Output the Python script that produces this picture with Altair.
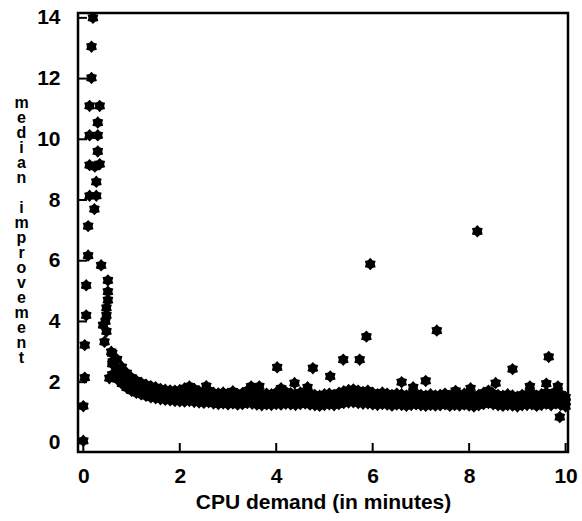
import altair as alt
import pandas as pd

# --- data ---
peak_x = [0.20, 0.17, 0.17, 0.13, 0.34, 0.30, 0.13, 0.30, 0.30, 0.13, 0.24, 0.34,
          0.27, 0.13, 0.27, 0.23, 0.10, 0.10, 0.37, 0.06, 0.51, 0.51, 0.51, 0.48,
          0.06, 0.48, 0.46, 0.41, 0.48, 0.03, 0.44, 0.58, 0.61, 0.54, 0.03, 0.0, 0.0]
peak_y = [14.0, 13.05, 12.02, 11.1, 11.1, 10.55, 10.13, 10.13, 9.6, 9.15, 9.1, 9.18,
          8.6, 8.14, 8.14, 7.7, 7.14, 6.17, 5.85, 5.19, 5.35, 4.98, 4.7, 4.45,
          4.2, 4.2, 4.0, 3.88, 3.67, 3.22, 3.33, 3.0, 2.68, 2.13, 2.15, 1.21, 0.07]

band_x = [0.6, 0.7, 0.8, 0.9, 1.0, 1.1, 1.2, 1.3, 1.4, 1.5,
          1.6, 1.7, 1.8, 1.9, 2.0, 2.1, 2.2, 2.3, 2.4, 2.5,
          2.6, 2.7, 2.8, 2.9, 3.0, 3.1, 3.2, 3.3, 3.4, 3.5,
          3.6, 3.7, 3.8, 3.9, 4.0, 4.1, 4.2, 4.3, 4.4, 4.5,
          4.6, 4.7, 4.8, 4.9, 5.0, 5.1, 5.2, 5.3, 5.4, 5.5,
          5.6, 5.7, 5.8, 5.9, 6.0, 6.1, 6.2, 6.3, 6.4, 6.5,
          6.6, 6.7, 6.8, 6.9, 7.0, 7.1, 7.2, 7.3, 7.4, 7.5,
          7.6, 7.7, 7.8, 7.9, 8.0, 8.1, 8.2, 8.3, 8.4, 8.5,
          8.6, 8.7, 8.8, 8.9, 9.0, 9.1, 9.2, 9.3, 9.4, 9.5,
          9.6, 9.7, 9.8, 9.9, 10.0]
band_upper = [2.95, 2.75, 2.5, 2.3, 2.15, 2.05, 1.98, 1.92, 1.87, 1.83,
              1.78, 1.75, 1.73, 1.72, 1.74, 1.8, 1.86, 1.78, 1.7, 1.68,
              1.72, 1.65, 1.63, 1.66, 1.62, 1.7, 1.6, 1.64, 1.72, 1.68,
              1.62, 1.58, 1.62, 1.6, 1.66, 1.62, 1.68, 1.64, 1.6, 1.66,
              1.7, 1.63, 1.58, 1.55, 1.6, 1.62, 1.58, 1.65, 1.7, 1.74,
              1.76, 1.72, 1.68, 1.72, 1.65, 1.6, 1.66, 1.62, 1.58, 1.62,
              1.6, 1.56, 1.6, 1.62, 1.58, 1.55, 1.6, 1.56, 1.58, 1.62,
              1.55, 1.6, 1.58, 1.62, 1.56, 1.52, 1.58, 1.65, 1.72, 1.62,
              1.58, 1.55, 1.6, 1.56, 1.52, 1.58, 1.6, 1.62, 1.55, 1.6,
              1.66, 1.58, 1.68, 1.6, 1.5]
band_mid = [2.6, 2.4, 2.2, 2.05, 1.93, 1.85, 1.78, 1.72, 1.68, 1.64,
            1.6, 1.57, 1.55, 1.53, 1.52, 1.55, 1.58, 1.52, 1.48, 1.47,
            1.5, 1.45, 1.44, 1.46, 1.43, 1.48, 1.42, 1.45, 1.5, 1.47,
            1.43, 1.4, 1.44, 1.42, 1.46, 1.43, 1.47, 1.45, 1.42, 1.46,
            1.49, 1.44, 1.4, 1.38, 1.42, 1.44, 1.4, 1.46, 1.5, 1.53,
            1.55, 1.51, 1.48, 1.5, 1.45, 1.42, 1.46, 1.43, 1.4, 1.43,
            1.42, 1.39, 1.42, 1.44, 1.4, 1.38, 1.42, 1.39, 1.41, 1.44,
            1.38, 1.42, 1.4, 1.44, 1.39, 1.36, 1.4, 1.46, 1.5, 1.44,
            1.4, 1.38, 1.42, 1.39, 1.36, 1.4, 1.42, 1.44, 1.38, 1.42,
            1.47, 1.4, 1.48, 1.42, 1.35]
band_lower = [2.25, 2.1, 1.95, 1.82, 1.72, 1.65, 1.6, 1.55, 1.5, 1.47,
              1.44, 1.42, 1.4, 1.38, 1.37, 1.36, 1.38, 1.35, 1.33, 1.32,
              1.34, 1.3, 1.28, 1.3, 1.27, 1.3, 1.26, 1.28, 1.31, 1.29,
              1.26, 1.24, 1.27, 1.25, 1.28, 1.26, 1.29, 1.27, 1.25, 1.28,
              1.3, 1.26, 1.24, 1.22, 1.25, 1.27, 1.24, 1.28, 1.31, 1.33,
              1.34, 1.31, 1.29, 1.3, 1.27, 1.25, 1.28, 1.26, 1.23, 1.26,
              1.25, 1.22, 1.25, 1.27, 1.24, 1.22, 1.25, 1.23, 1.24, 1.27,
              1.22, 1.25, 1.23, 1.26, 1.23, 1.2, 1.24, 1.28, 1.31, 1.27,
              1.24, 1.22, 1.25, 1.23, 1.2, 1.24, 1.25, 1.27, 1.22, 1.25,
              1.29, 1.24, 1.3, 1.25, 1.2]

outlier_x = [4.02, 4.76, 5.12, 5.39, 5.73, 5.87, 5.95, 7.33, 8.17, 8.9, 9.65, 9.6,
             9.88, 6.6, 6.84, 7.1, 4.38, 4.1, 3.48, 3.65, 8.55, 9.26, 9.84, 4.65,
             7.72, 8.03, 2.55]
outlier_y = [2.49, 2.46, 2.19, 2.74, 2.74, 3.5, 5.89, 3.7, 6.97, 2.43, 2.83, 1.95,
             0.85, 2.0, 1.83, 2.04, 1.97, 1.8, 1.86, 1.86, 1.97, 1.86, 1.86, 1.83,
             1.71, 1.8, 1.87]

x_ticks = [0, 2, 4, 6, 8, 10]
y_ticks = [0, 2, 4, 6, 8, 10, 12, 14]
y_title = ["m", "e", "d", "i", "a", "n", "\u2800",
           "i", "m", "p", "r", "o", "v", "e", "m", "e", "n", "t"]

xs = peak_x + band_x + band_x + band_x + outlier_x
ys = peak_y + band_upper + band_mid + band_lower + outlier_y
df = pd.DataFrame({"cpu": xs, "improvement": ys})

STAR = ("M0,-1L0.36,-0.62L0.866,-0.5L0.72,0L0.866,0.5L0.36,0.62L0,1"
        "L-0.36,0.62L-0.866,0.5L-0.72,0L-0.866,-0.5L-0.36,-0.62Z")

FONT = "Liberation Sans"
xscale = alt.Scale(domain=[-0.11, 10.05], nice=False, zero=False)
yscale = alt.Scale(domain=[-0.3, 14.16], nice=False, zero=False)

xaxis = alt.Axis(values=x_ticks, title="CPU demand (in minutes)", grid=False, domain=False,
                 ticks=False, tickSize=0, labelPadding=13, labelFont=FONT, labelFontSize=21,
                 labelFontWeight="bold", labelColor="black", titleFont=FONT,
                 titleFontSize=21, titleFontWeight="bold", titleColor="black",
                 titleBaseline="alphabetic", titleY=56)
yaxis = alt.Axis(values=y_ticks, title=y_title, grid=False, domain=False, ticks=False,
                 tickSize=0, labelPadding=18, labelFont=FONT, labelFontSize=21,
                 labelFontWeight="bold", labelColor="black", titleFont=FONT,
                 titleFontSize=16, titleFontWeight="bold", titleColor="black",
                 titleAngle=0, titleAlign="center", titleBaseline="alphabetic",
                 titleX=-57, titleY=94, titleLineHeight=15)

points = alt.Chart(df).mark_point(
    shape=STAR, filled=True, color="black", size=155, opacity=1, strokeWidth=0
).encode(
    x=alt.X("cpu:Q", scale=xscale, axis=xaxis),
    y=alt.Y("improvement:Q", scale=yscale, axis=yaxis),
)

xt = alt.Chart(pd.DataFrame({"cpu": x_ticks})).mark_rule(color="black", strokeWidth=2).encode(
    x=alt.X("cpu:Q", scale=xscale, axis=xaxis),
    y=alt.value(439), y2=alt.value(430),
)
yt = alt.Chart(pd.DataFrame({"improvement": y_ticks})).mark_rule(color="black", strokeWidth=2).encode(
    y=alt.Y("improvement:Q", scale=yscale, axis=yaxis),
    x=alt.value(0), x2=alt.value(9),
)

chart = alt.layer(xt, yt, points).properties(
    width=490, height=439,
    padding={"left": 78, "top": 13, "right": 14, "bottom": 69},
    autosize=alt.AutoSizeParams(type="none"),
    background="white",
).configure_view(stroke="black", strokeWidth=2.5)

chart.save("out.html", embed_options={"renderer": "svg", "actions": False})
